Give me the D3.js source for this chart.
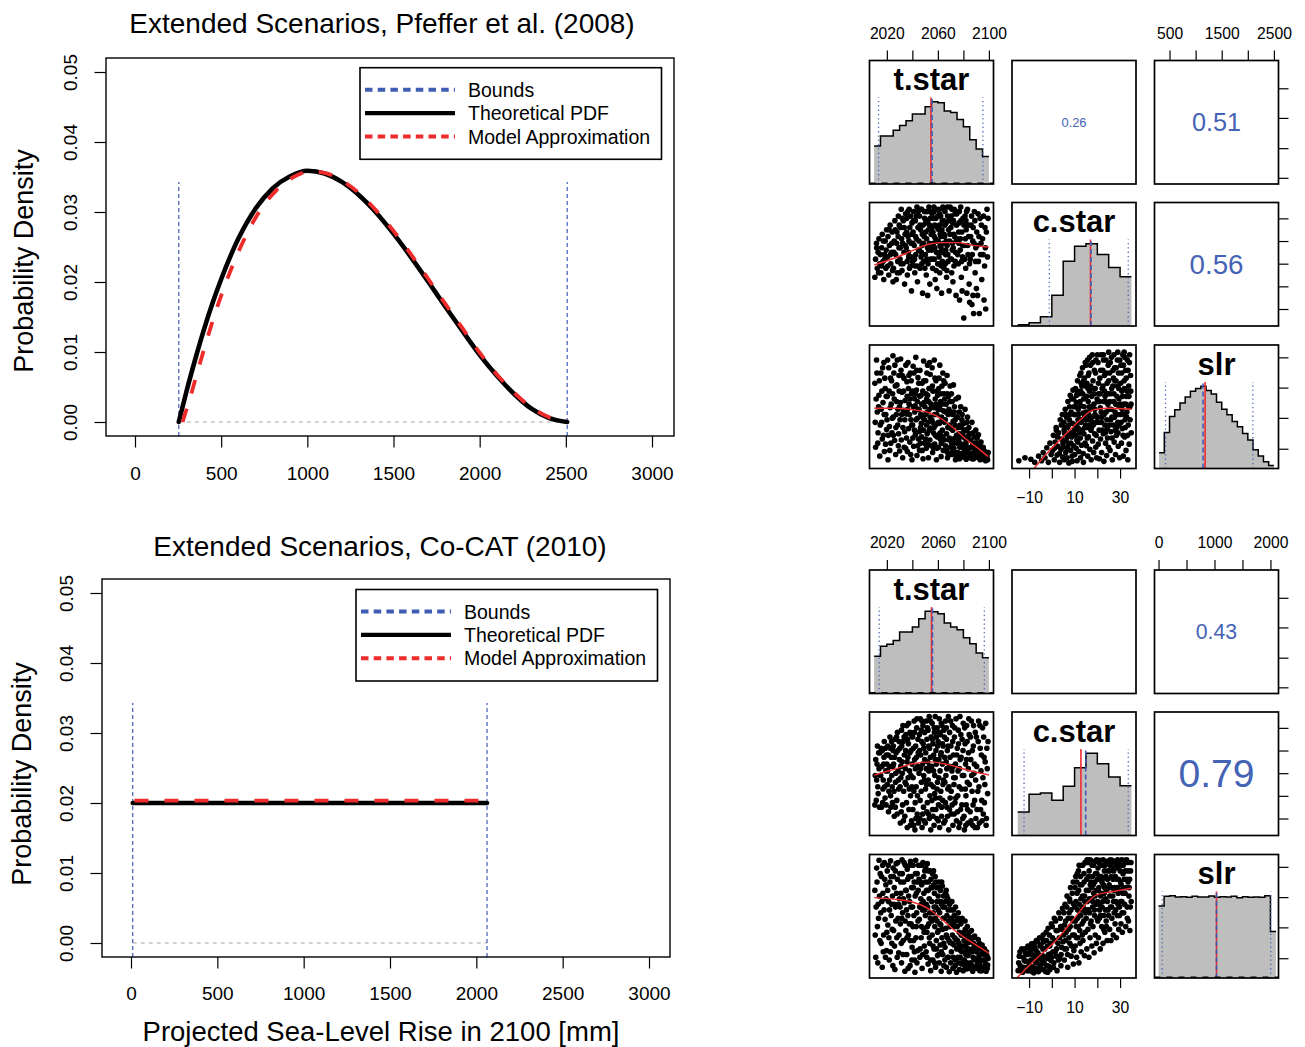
<!DOCTYPE html>
<html>
<head>
<meta charset="utf-8">
<script src="https://cdn.jsdelivr.net/npm/d3@7"></script>
<style>
  body { margin: 0; background: #fff; }
  svg { display: block; }
</style>
</head>
<body>
<svg id="chart" width="1305" height="1047"></svg>
<script>
// ---------- density panels (left column) ----------
const xTicksSLR = [0, 500, 1000, 1500, 2000, 2500, 3000];
const yTicksDensity = [0, 0.01, 0.02, 0.03, 0.04, 0.05];
const legendLabels = ["Bounds", "Theoretical PDF", "Model Approximation"];

// Pfeffer et al. (2008): bounded, skewed distribution of sea-level rise [mm]
const pfefferBounds = [254, 2508];
const pfefferPdf = [[254,0],[300,0.0045],[350,0.0090],[400,0.0132],[450,0.0170],[500,0.0204],[600,0.0262],[700,0.0305],[800,0.0334],[900,0.0351],[1000,0.0359],[1100,0.0355],[1200,0.0343],[1300,0.0324],[1400,0.0299],[1500,0.0269],[1600,0.0236],[1700,0.0201],[1800,0.0165],[1900,0.0130],[2000,0.0096],[2100,0.0066],[2200,0.0040],[2300,0.0019],[2400,0.0006],[2508,0]];
const pfefferApprox = [[276,0],[320,0.0035],[370,0.0078],[420,0.0120],[470,0.0159],[520,0.0194],[620,0.0254],[720,0.0300],[820,0.0331],[920,0.0350],[1020,0.0358],[1100,0.0356],[1200,0.0345],[1300,0.0327],[1400,0.0302],[1500,0.0273],[1600,0.0240],[1700,0.0205],[1800,0.0169],[1900,0.0134],[2000,0.0099],[2100,0.0068],[2200,0.0042],[2300,0.0021],[2400,0.0007],[2500,0.0001]];

// Co-CAT (2010): uniform distribution
const cocatBounds = [10, 2062];
const cocatPdf = [[10,0.0200],[2062,0.0200]];
const cocatApprox = [[20,0.02033],[2055,0.02033]];
const boundLineTop = 0.0343;

// ---------- pairs panels (right column) ----------
const pairVars = ["t.star", "c.star", "slr"];
const tStarTicks = [2020, 2040, 2060, 2080, 2100];
const tStarTickLabels = [2020, 2060, 2100];
const cStarTicks = [-10, 0, 10, 20, 30];
const cStarTickLabels = [-10, 10, 30];
const slrTicksTop = [500, 1000, 1500, 2000, 2500];
const slrTickLabelsTop = [500, 1500, 2500];
const slrTicksBottom = [0, 500, 1000, 1500, 2000];
const slrTickLabelsBottom = [0, 1000, 2000];
const rightTicksOuter = [0.05, 0.29, 0.535, 0.775];
const rightTicksSlr = [0.16, 0.41, 0.655, 0.90];

const tStarDomain = [2006.4, 2103.6];
const cStarDomain = [-17.5, 37];
const slrDomainTop = [212, 2588];
const slrDomainBottom = [-72, 2144];

// histogram bin edges and counts
const tStarEdges = [2010,2015,2020,2025,2030,2035,2040,2045,2050,2055,2060,2065,2070,2075,2080,2085,2090,2095,2100];
const cStarEdges = [-15,-10,-5,0,5,10,15,20,25,30,35];
const slrEdgesTop = [300,400,500,600,700,800,900,1000,1100,1200,1300,1400,1500,1600,1700,1800,1900,2000,2100,2200,2300,2400,2500];
const slrEdgesBottom = [0,100,200,300,400,500,600,700,800,900,1000,1100,1200,1300,1400,1500,1600,1700,1800,1900,2000,2100];

const topTStarCounts = [113,143,143,160,174,188,208,208,230,245,242,217,213,192,170,132,104,82];
const topCStarCounts = [4,10,28,93,195,240,248,215,176,148];
const topSlrCounts = [47,107,155,175,195,213,230,238,245,232,222,197,176,160,140,124,104,85,56,37,20,9];
const bottomTStarCounts = [112,142,148,160,185,185,200,225,248,246,240,212,200,192,168,150,122,108];
const bottomCStarCounts = [71,124,128,106,148,204,248,216,176,150];
const bottomSlrCounts = [217,246,248,244,245,243,246,244,244,247,243,245,244,246,242,245,243,244,243,248,140];

// [lower bound, upper bound, mean, median]
const topTStarLines = [2013.5, 2095.3, 2054.6, 2055.4];
const topCStarLines = [-1.1, 33.6, 17.0, 17.2];
const topSlrLines = [423, 2097, 1182, 1143];
const bottomTStarLines = [2014, 2096.4, 2055, 2055.8];
const bottomCStarLines = [-12.2, 33.6, 12.8, 14.9];
const bottomSlrLines = [65, 2006, 1036, 1036];

// correlations: (t.star,c.star), (t.star,slr), (c.star,slr)
const topCor = [0.26, 0.51, 0.56];
const bottomCor = [null, 0.43, 0.79];

// smoothed trends
const topLoessTC = [[2010.1,9.5],[2025.7,12.4],[2041.3,16.1],[2054.3,18.8],[2064.7,19.3],[2075.1,19.3],[2085.5,18.3],[2100,17.3]];
const topLoessTS = [[2010.1,1372],[2025.7,1372],[2041.3,1339],[2054.3,1275],[2062.1,1179],[2072.5,986],[2082.9,759],[2093.3,566],[2099.5,440]];
const topLoessCS = [[-9,150],[-0.8,566],[6.5,888],[12.4,1146],[18.2,1339],[24.1,1372],[35.1,1353]];
const bottomLoessTC = [[2010.1,9.2],[2025.7,11.7],[2041.3,14.3],[2054.3,15.0],[2067.3,13.9],[2082.9,11.4],[2100,9.2]];
const bottomLoessTS = [[2010.1,1371],[2025.7,1343],[2038.7,1300],[2051.7,1182],[2062.1,1003],[2072.5,793],[2085.5,584],[2100,376]];
const bottomLoessCS = [[-15.4,-71],[-8.1,226],[2.1,614],[9.4,972],[15.3,1271],[19.7,1420],[27.0,1479],[35.1,1540]];

// ensemble samples, Pfeffer: t.star vs c.star
const topTC = [
[2010.6,4],[2011.2,12],[2011.9,19],[2012.5,8],[2013.1,15],[2013.8,21],[2014.4,10],
[2015.3,6],[2015.9,17],[2016.4,23],[2017.0,11],[2017.6,3],[2018.1,14],[2018.7,20],[2019.2,8],[2019.8,25],
[2020.4,13],[2020.9,22],[2021.5,5],[2022.0,18],[2022.6,27],[2023.1,10],[2023.7,15],[2024.2,24],[2024.8,2],
[2025.2,8],[2025.8,20],[2026.3,29],[2026.9,14],[2027.4,3],[2027.9,24],[2028.5,11],[2029.0,31],[2029.5,17],[2029.9,6],
[2030.3,12],[2030.8,26],[2031.3,34],[2031.9,7],[2032.4,19],[2032.9,29],[2033.4,15],[2033.9,1],[2034.3,23],[2034.7,32],[2031.1,10],
[2035.2,17],[2035.7,30],[2036.1,5],[2036.6,22],[2037.1,13],[2037.5,34],[2038.0,26],[2038.4,9],[2038.9,19],[2039.3,-2],[2039.7,28],[2036.9,15],
[2040.2,11],[2040.6,24],[2041.0,33],[2041.5,18],[2041.9,6],[2042.3,29],[2042.7,14],[2043.2,21],[2043.6,35],[2044.0,2],[2044.4,26],[2044.8,16],[2042.1,9],
[2045.2,20],[2045.6,31],[2046.0,8],[2046.4,25],[2046.8,13],[2047.2,34],[2047.6,18],[2048.0,-3],[2048.4,27],[2048.8,11],[2049.2,22],[2049.6,30],[2047.0,15],
[2050.2,14],[2050.5,28],[2050.9,5],[2051.2,21],[2051.6,33],[2051.9,17],[2052.3,10],[2052.6,25],[2053.0,35],[2053.3,19],[2053.7,1],[2054.0,30],[2054.3,12],[2054.7,23],[2052.0,-4],
[2055.2,16],[2055.5,32],[2055.9,8],[2056.2,24],[2056.5,19],[2056.9,35],[2057.2,12],[2057.5,27],[2057.9,3],[2058.2,21],[2058.5,30],[2058.9,15],[2059.2,-1],[2059.5,26],[2059.8,10],[2057.0,33],
[2060.2,20],[2060.5,34],[2060.9,13],[2061.2,27],[2061.5,6],[2061.9,23],[2062.2,31],[2062.5,17],[2062.9,-3],[2063.2,25],[2063.5,11],[2063.9,35],[2064.2,19],[2064.5,29],[2064.8,8],[2062.0,15],
[2065.2,22],[2065.6,33],[2066.0,14],[2066.4,28],[2066.8,4],[2067.2,18],[2067.6,31],[2068.0,11],[2068.4,25],[2068.8,-2],[2069.2,20],[2069.6,35],[2067.0,7],[2066.2,16],
[2070.2,26],[2070.6,12],[2071.0,34],[2071.4,19],[2071.8,2],[2072.2,29],[2072.6,9],[2073.0,22],[2073.4,32],[2073.8,15],[2074.2,-4],[2074.6,27],[2072.0,17],[2070.8,6],
[2075.2,21],[2075.7,33],[2076.1,10],[2076.6,28],[2077.0,-6],[2077.5,16],[2077.9,35],[2078.4,4],[2078.8,24],[2079.3,13],[2079.7,30],[2076.4,19],
[2080.3,-14],[2080.8,18],[2081.3,31],[2081.8,8],[2082.2,25],[2082.7,-3],[2083.2,34],[2083.6,14],[2084.1,22],[2084.5,1],[2082.0,29],
[2085.4,12],[2086.0,27],[2086.7,-8],[2087.3,20],[2088.0,-12],[2088.6,33],[2089.2,6],[2089.7,17],
[2090.5,24],[2091.1,-4],[2091.8,11],[2092.5,-12],[2093.1,30],[2093.8,19],[2094.4,3],
[2095.5,14],[2096.2,-6],[2096.9,26],[2097.5,-10],[2098.5,34],
[2012.0,17],[2013.5,6],[2014.9,14],[2016.0,9],[2017.3,20],[2018.4,12],[2019.5,16],[2020.7,9],[2021.8,25],[2022.9,14],[2023.9,19],[2024.5,7],[2025.5,15],[2026.6,25],[2027.7,19],[2028.2,6],[2028.9,22],[2029.7,27],[2030.5,17],[2031.6,21],[2032.1,30],[2032.7,10],[2033.6,26],[2034.5,18],[2035.5,24],[2035.9,11],[2036.4,33],[2037.3,20],[2037.8,8],[2038.6,31],[2039.1,13],[2039.5,23],[2040.4,19],[2040.9,29],[2041.7,12],[2042.5,22],[2043.0,31],[2043.8,9],[2044.6,33],[2045.4,16],[2045.9,27],[2046.6,34],[2047.4,10],[2047.8,23],[2048.6,19],[2049.4,33],[2049.8,8],[2050.4,24],[2050.7,33],[2051.4,12],[2052.1,29],[2052.8,16],[2053.5,27],[2054.5,33],[2054.9,18],[2055.4,26],[2055.7,12],[2056.4,30],[2057.1,22],[2057.7,17],[2058.4,34],[2058.7,7],[2059.4,20],[2059.9,31],[2060.4,10],[2060.7,25],[2061.4,32],[2061.7,18],[2062.4,22],[2062.7,9],[2063.4,29],[2063.7,15],[2064.4,34],[2064.9,23],[2065.4,27],[2065.9,10],[2066.6,20],[2067.4,35],[2067.8,14],[2068.6,29],[2069.4,23],[2069.9,12],[2070.4,31],[2071.2,16],[2071.6,28],[2072.4,23],[2072.8,34],[2073.6,11],[2074.4,20],[2074.8,32],[2075.5,14],[2076.3,24],[2076.8,33],[2077.7,21],[2078.2,29],[2078.6,11],[2079.5,18],[2080.5,27],[2081.1,12],[2081.6,21],[2082.5,33],[2083.4,18],[2083.9,27],[2084.8,10],[2085.7,22],[2086.4,31],[2087.0,14],[2087.7,26],[2088.3,19],[2089.0,29],[2089.5,11],[2090.8,18],[2091.5,32],[2092.2,22],[2093.4,14],[2094.1,27],[2095.0,21],[2095.8,31],[2096.6,9],[2097.2,17],[2098.0,24],[2098.9,13],[2099.3,30],[2090.2,-1],[2087.5,-4],[2079.0,-2],[2084.9,-7]
];

// Pfeffer: t.star vs slr
const topTS = [
[2010.6,1850],[2011.2,620],[2011.9,2300],[2012.5,1300],[2013.1,900],[2013.8,1620],[2014.4,450],
[2015.3,2050],[2015.9,1100],[2016.4,780],[2017.0,1480],[2017.6,2250],[2018.1,540],[2018.7,1750],[2019.2,1250],[2019.8,960],
[2020.4,1600],[2020.9,380],[2021.5,2150],[2022.0,1020],[2022.6,1380],[2023.1,700],[2023.7,1900],[2024.2,1180],[2024.8,2380],
[2025.2,850],[2025.8,1550],[2026.3,2200],[2026.9,480],[2027.4,1250],[2027.9,1820],[2028.5,1050],[2029.0,650],[2029.5,2000],[2029.9,1400],
[2030.3,1150],[2030.8,2320],[2031.3,760],[2031.9,1680],[2032.4,420],[2032.9,1330],[2033.4,1950],[2033.9,920],[2034.3,1520],[2034.7,600],[2031.1,2100],
[2035.2,1260],[2035.7,1880],[2036.1,540],[2036.6,2250],[2037.1,980],[2037.5,1450],[2038.0,720],[2038.4,2050],[2038.9,1150],[2039.3,1650],[2039.7,380],[2036.9,1750],
[2040.2,1050],[2040.6,2180],[2041.0,640],[2041.5,1560],[2041.9,1300],[2042.3,860],[2042.7,2350],[2043.2,1720],[2043.6,460],[2044.0,1180],[2044.4,1960],[2044.8,780],[2042.1,1420],
[2045.2,1350],[2045.6,560],[2046.0,2100],[2046.4,1000],[2046.8,1620],[2047.2,820],[2047.6,1850],[2048.0,1200],[2048.4,400],[2048.8,2280],[2049.2,1480],[2049.6,700],[2047.0,1080],
[2050.2,1250],[2050.5,1900],[2050.9,600],[2051.2,1550],[2051.6,880],[2051.9,2200],[2052.3,1100],[2052.6,420],[2053.0,1750],[2053.3,1350],[2053.7,760],[2054.0,2020],[2054.3,990],[2054.7,1450],[2052.0,1620],
[2055.2,1150],[2055.5,2150],[2055.9,520],[2056.2,1700],[2056.5,900],[2056.9,1380],[2057.2,2300],[2057.5,680],[2057.9,1550],[2058.2,1050],[2058.5,1900],[2058.9,380],[2059.2,1250],[2059.5,820],[2059.8,1620],[2057.0,1000],
[2060.2,1400],[2060.5,620],[2060.9,1950],[2061.2,1080],[2061.5,2200],[2061.9,780],[2062.2,1500],[2062.5,440],[2062.9,1200],[2063.2,1800],[2063.5,950],[2063.9,2050],[2064.2,560],[2064.5,1320],[2064.8,1650],[2062.0,900],
[2065.2,1100],[2065.6,1850],[2066.0,650],[2066.4,1450],[2066.8,880],[2067.2,2000],[2067.6,420],[2068.0,1250],[2068.4,1600],[2068.8,760],[2069.2,1050],[2069.6,1800],[2067.0,540],[2066.2,1300],
[2070.2,980],[2070.6,1650],[2071.0,480],[2071.4,1250],[2071.8,780],[2072.2,1820],[2072.6,600],[2073.0,1400],[2073.4,1050],[2073.8,380],[2074.2,1550],[2074.6,850],[2072.0,1120],[2070.8,700],
[2075.2,1200],[2075.7,520],[2076.1,1580],[2076.6,880],[2077.0,400],[2077.5,1050],[2077.9,1400],[2078.4,680],[2078.8,1150],[2079.3,450],[2079.7,900],[2076.4,760],
[2080.3,1080],[2080.8,560],[2081.3,1350],[2081.8,780],[2082.2,390],[2082.7,950],[2083.2,1200],[2083.6,620],[2084.1,850],[2084.5,450],[2082.0,700],
[2085.4,880],[2086.0,500],[2086.7,1100],[2087.3,680],[2088.0,400],[2088.6,820],[2089.2,560],[2089.7,950],
[2090.5,700],[2091.1,450],[2091.8,860],[2092.5,560],[2093.1,380],[2093.8,720],[2094.4,480],
[2095.5,620],[2096.2,420],[2096.9,540],[2097.5,360],[2098.5,450],
[2010.9,1100],[2011.6,1550],[2012.2,2050],[2012.9,700],[2013.5,1400],[2014.1,1900],[2014.8,1050],[2015.6,1350],[2016.1,1700],[2016.7,2150],[2017.3,850],[2017.9,1250],[2018.4,1950],[2019.0,680],[2019.5,1600],[2020.1,1150],[2020.6,2300],[2021.2,850],[2021.8,1700],[2022.3,560],[2022.9,1950],[2023.4,1450],[2024.0,900],[2024.5,1650],[2025.0,1200],[2025.5,2050],[2026.1,750],[2026.6,1800],[2027.1,1000],[2027.6,1500],[2028.2,2300],[2028.7,1350],[2029.2,880],[2029.7,1700],[2030.0,550],[2030.6,1480],[2031.6,1250],[2032.1,2000],[2032.6,1000],[2033.1,1700],[2033.6,620],[2034.1,1150],[2034.9,2200],[2035.4,800],[2035.9,1600],[2036.3,1350],[2037.3,2000],[2037.8,1250],[2038.2,1550],[2038.7,480],[2039.1,1900],[2039.5,1050],[2040.0,1700],[2040.4,800],[2040.8,1400],[2041.2,2050],[2041.7,950],[2042.5,1650],[2042.9,1150],[2043.4,2100],[2043.9,1500],[2044.2,650],[2044.6,1350],[2045.0,1850],[2045.4,920],[2045.8,1600],[2046.2,700],[2046.6,1250],[2047.4,1450],[2047.8,560],[2048.2,1700],[2048.6,950],[2049.0,1900],[2049.4,1150],[2049.8,1400],[2050.3,780],[2050.7,1650],[2051.0,1050],[2051.4,2050],[2051.8,1300],[2052.2,680],[2052.8,1500],[2053.2,950],[2053.5,2250],[2053.9,1200],[2054.5,1750],[2054.9,650],[2055.4,1400],[2055.7,1800],[2056.0,1100],[2056.7,600],[2057.4,1250],[2057.7,1950],[2058.0,850],[2058.7,1450],[2059.0,1700],[2059.4,600],[2059.9,1350],[2060.4,1100],[2060.7,1750],[2061.4,880],[2061.7,1350],[2062.4,1650],[2062.7,700],[2063.1,1450],[2063.7,1150],[2064.0,820],[2064.6,1900],[2065.0,760],[2065.4,1550],[2065.8,1150],[2066.6,560],[2067.4,1650],[2067.8,1000],[2068.2,480],[2068.6,1350],[2069.0,800],[2069.4,1500],[2069.8,620],[2070.4,1300],[2070.9,520],[2071.2,1500],[2071.6,950],[2072.4,700],[2072.8,1300],[2073.2,520],[2073.6,1150],[2074.0,800],[2074.4,450],[2074.8,1200],[2075.4,700],[2075.9,1000],[2076.3,420],[2076.8,1300],[2077.2,620],[2077.7,850],[2078.2,500],[2078.6,1000],[2079.0,1250],[2079.5,620],[2080.0,820],[2080.5,430],[2081.0,950],[2081.5,650],[2082.4,520],[2082.9,1100],[2083.4,780],[2083.9,420],[2084.3,1000],[2084.8,600],[2085.2,480],[2085.7,760],[2086.3,620],[2086.9,400],[2087.6,900],[2088.2,520],[2088.8,700],[2089.4,430],[2090.0,620],[2090.8,800],[2091.4,550],[2092.0,420],[2092.8,650],[2093.4,500],[2094.0,600],[2094.8,400],[2095.2,500],[2095.9,560],[2096.6,380],[2097.2,480],[2097.9,420],[2099.0,380],[2099.5,520]
];

// Pfeffer: c.star vs slr
const topCS = [
[-14.5,360],[-11.8,420],
[-9.2,390],[-7.5,330],[-5.8,450],
[-4.5,360],[-3.8,520],[-3.0,420],[-2.2,610],[-1.5,330],[-0.8,700],[-0.3,480],
[0.3,560],[0.7,850],[1.1,380],[1.5,720],[1.9,1000],[2.3,470],[2.7,640],[3.0,900],[3.4,330],[3.7,1150],[4.0,580],[4.3,780],[4.6,1250],[4.8,430],[2.0,950],
[5.1,620],[5.3,1100],[5.5,380],[5.7,880],[5.9,1350],[6.1,520],[6.3,760],[6.5,1200],[6.7,420],[6.9,1000],[7.1,1500],[7.3,680],[7.5,320],[7.7,1150],[7.9,900],[8.1,1620],[8.3,560],[8.5,1300],[8.7,820],[8.9,450],[9.1,1080],[9.3,1720],[9.5,650],[9.7,1400],[9.9,950],[6.0,1000],[7.0,600],[8.0,1250],[9.0,350],[9.6,1550],
[10.1,480],[10.2,1250],[10.4,1750],[10.5,850],[10.7,600],[10.8,1480],[11.0,1050],[11.1,360],[11.3,1900],[11.4,720],[11.6,1350],[11.7,980],[11.9,540],[12.0,1650],[12.2,1150],[12.3,2000],[12.5,800],[12.6,420],[12.8,1420],[12.9,1100],[13.1,660],[13.2,1800],[13.4,950],[13.5,2150],[13.7,1280],[13.8,500],[14.0,1550],[14.1,880],[14.3,1950],[14.4,1200],[14.6,700],[14.7,2250],[14.9,1050],[10.9,1620],[12.7,1700],[13.9,330],[11.5,1150],
[15.1,1300],[15.2,650],[15.4,1850],[15.5,1000],[15.7,2300],[15.8,450],[16.0,1500],[16.1,820],[16.3,2050],[16.4,1150],[16.6,1700],[16.7,580],[16.9,1350],[17.0,2200],[17.2,950],[17.3,380],[17.5,1600],[17.6,1200],[17.8,2400],[17.9,740],[18.1,1900],[18.2,1050],[18.4,520],[18.5,1450],[18.7,2100],[18.8,880],[19.0,1250],[19.1,1750],[19.3,620],[19.4,2300],[19.6,1100],[19.7,420],[19.9,1550],[16.2,1250],[17.4,1000],[18.6,1650],[19.5,850],[15.9,1750],
[20.1,1200],[20.3,2250],[20.4,680],[20.6,1650],[20.8,950],[20.9,400],[21.1,1950],[21.3,1380],[21.4,780],[21.6,2400],[21.8,1100],[21.9,520],[22.1,1750],[22.3,1250],[22.4,2100],[22.6,880],[22.8,1500],[22.9,350],[23.1,2000],[23.3,1050],[23.4,1600],[23.6,700],[23.8,2300],[23.9,1300],[24.1,460],[24.3,1850],[24.4,980],[24.6,1450],[24.8,2200],[24.9,620],[21.0,1500],[22.0,1200],[23.5,900],
[25.2,1350],[25.4,2050],[25.6,560],[25.8,1650],[26.0,920],[26.2,2350],[26.4,1200],[26.6,380],[26.8,1800],[27.0,1050],[27.2,1500],[27.4,720],[27.6,2150],[27.8,1300],[28.0,480],[28.2,1900],[28.4,850],[28.6,1600],[28.8,2300],[29.0,1100],[29.2,640],[29.4,1750],[29.6,1400],[29.8,420],[25.9,1150],[27.1,1950],[28.5,1000],
[30.2,1250],[30.4,2200],[30.6,700],[30.8,1700],[31.0,980],[31.2,2400],[31.4,450],[31.6,1450],[31.8,1900],[32.0,820],[32.2,1150],[32.4,2100],[32.6,560],[32.8,1600],[33.0,1300],[33.2,2300],[33.4,380],[33.6,1050],[33.8,1800],[34.0,680],[34.3,1400],[34.6,2000],[34.9,900],
[1.2,600],[2.5,820],[3.3,500],[4.2,1050],[4.9,700],[5.4,950],[6.2,1250],[6.8,830],[7.4,1050],[7.8,1400],[8.4,700],[8.8,1550],[9.2,900],[9.8,1250],[10.3,1050],[10.6,1400],[11.0,760],[11.2,1700],[11.8,1250],[12.1,900],[12.4,1500],[12.9,1850],[13.3,1150],[13.6,1650],[14.2,1400],[14.5,1000],[14.8,1800],[15.0,1150],[15.3,1600],[15.6,800],[16.0,2000],[16.5,1400],[16.8,1050],[17.1,1800],[17.7,1400],[18.0,1100],[18.3,1750],[18.9,1350],[19.2,2050],[19.8,1200],[20.2,1500],[20.5,1850],[20.7,1100],[21.2,1650],[21.5,2100],[21.7,1300],[22.2,950],[22.5,1800],[22.7,2300],[23.0,1250],[23.2,1700],[23.7,1500],[24.0,2050],[24.2,1150],[24.5,800],[24.7,1650],[25.0,1900],[25.3,1050],[25.5,1500],[25.7,2250],[26.1,1350],[26.3,1750],[26.5,800],[26.9,2100],[27.3,1650],[27.5,1200],[27.7,1900],[27.9,950],[28.1,1450],[28.3,2150],[28.7,1250],[28.9,1800],[29.1,900],[29.3,2050],[29.5,1550],[29.7,1050],[29.9,2300],[30.1,1450],[30.3,1850],[30.5,1100],[30.7,2050],[30.9,1350],[31.1,1600],[31.3,850],[31.5,2200],[31.7,1250],[31.9,1750],[32.1,2350],[32.3,1000],[32.5,1450],[32.7,1950],[32.9,1200],[33.1,1700],[33.3,850],[33.5,2100],[33.7,1400],[33.9,1600],[34.1,2250],[34.4,1150],[34.7,1700],[34.8,1450],[15.0,2200],[16.6,2350],[18.0,2250],[20.0,2400],[22.7,2400],[25.0,2450],[27.3,2400],[29.0,2450],[31.8,2450],[34.2,2400],[14.0,1900],[12.8,2050]
];

// ensemble samples, Co-CAT: t.star vs c.star
const bottomTC = [
[2010.6,-4],[2011.3,16],[2012.0,7],[2012.6,22],[2013.2,1],[2013.9,12],[2014.5,19],
[2015.2,9],[2015.8,-5],[2016.4,20],[2016.9,3],[2017.5,14],[2018.0,24],[2018.6,-1],[2019.2,11],[2019.7,18],
[2020.3,5],[2020.8,22],[2021.3,-7],[2021.9,13],[2022.4,26],[2022.9,0],[2023.4,17],[2023.9,9],[2024.4,-3],[2024.9,20],
[2025.3,14],[2025.8,-9],[2026.3,25],[2026.8,6],[2027.3,19],[2027.8,-2],[2028.3,28],[2028.8,11],[2029.3,3],[2029.8,16],
[2030.2,21],[2030.6,-12],[2031.0,8],[2031.5,29],[2031.9,15],[2032.3,-4],[2032.8,24],[2033.2,2],[2033.7,18],[2034.1,-9],[2034.5,12],[2034.9,27],
[2035.2,5],[2035.6,31],[2036.0,-14],[2036.5,17],[2036.9,23],[2037.3,-6],[2037.8,11],[2038.2,28],[2038.6,0],[2039.0,20],[2039.4,-11],[2039.8,14],
[2040.2,26],[2040.6,8],[2041.0,-13],[2041.4,33],[2041.8,16],[2042.2,-3],[2042.6,22],[2043.0,4],[2043.4,30],[2043.8,-8],[2044.2,13],[2044.6,19],[2042.0,-15],
[2045.2,10],[2045.5,27],[2045.9,-10],[2046.2,34],[2046.6,18],[2046.9,2],[2047.3,24],[2047.6,-14],[2048.0,14],[2048.3,31],[2048.7,-5],[2049.0,21],[2049.4,7],[2049.7,16],[2047.0,29],
[2050.2,-12],[2050.5,19],[2050.8,33],[2051.1,5],[2051.4,25],[2051.7,-3],[2052.0,15],[2052.3,29],[2052.6,-8],[2052.9,11],[2053.2,35],[2053.5,21],[2053.8,0],[2054.1,17],[2054.4,-15],[2054.7,26],
[2055.2,13],[2055.5,32],[2055.8,-6],[2056.1,23],[2056.4,4],[2056.7,18],[2057.0,-13],[2057.3,28],[2057.6,9],[2057.9,35],[2058.2,-1],[2058.5,20],[2058.8,14],[2059.1,-10],[2059.4,30],[2059.7,6],
[2060.2,24],[2060.5,-4],[2060.8,16],[2061.1,34],[2061.4,-14],[2061.7,11],[2062.0,27],[2062.3,2],[2062.6,19],[2062.9,-9],[2063.2,31],[2063.5,14],[2063.8,-2],[2064.1,22],[2064.4,7],[2064.7,29],
[2065.2,17],[2065.6,-11],[2066.0,33],[2066.3,9],[2066.7,25],[2067.1,-5],[2067.4,20],[2067.8,3],[2068.2,35],[2068.5,-15],[2068.9,13],[2069.2,28],[2069.6,-1],[2066.5,15],
[2070.2,22],[2070.6,-8],[2071.0,11],[2071.4,31],[2071.8,-13],[2072.2,18],[2072.6,5],[2073.0,26],[2073.4,-3],[2073.8,14],[2074.2,34],[2074.6,-11],[2072.4,8],
[2075.2,21],[2075.6,0],[2076.0,29],[2076.5,-14],[2076.9,12],[2077.3,35],[2077.8,-6],[2078.2,17],[2078.6,3],[2079.0,25],[2079.5,-10],[2079.9,32],
[2080.3,9],[2080.8,-15],[2081.3,23],[2081.7,14],[2082.2,-4],[2082.6,31],[2083.1,6],[2083.6,-12],[2084.0,19],[2084.5,27],[2082.0,0],
[2085.3,-7],[2085.8,16],[2086.3,33],[2086.8,2],[2087.3,-13],[2087.8,22],[2088.3,10],[2088.8,-2],[2089.3,28],[2089.8,-10],
[2090.4,13],[2091.0,-14],[2091.6,24],[2092.2,4],[2092.9,31],[2093.5,-6],[2094.1,18],[2094.7,-11],
[2095.3,8],[2095.9,26],[2096.5,-3],[2097.1,15],[2097.8,-13],[2098.4,21],[2099.0,1],
[2010.9,9],[2011.7,-2],[2012.3,14],[2012.9,4],[2013.6,19],[2014.2,-5],[2014.8,9],[2015.5,21],[2016.1,13],[2016.7,-3],[2017.2,7],[2017.8,17],[2018.3,4],[2018.9,21],[2019.4,-4],[2020.0,14],[2020.6,11],[2021.1,18],[2021.6,2],[2022.1,7],[2022.7,21],[2023.2,-5],[2023.7,24],[2024.2,4],[2024.7,13],[2025.1,22],[2025.6,2],[2026.0,17],[2026.6,-5],[2027.0,10],[2027.6,26],[2028.1,-8],[2028.6,20],[2029.1,7],[2029.6,24],[2030.4,4],[2030.9,13],[2031.3,-7],[2031.7,22],[2032.1,10],[2032.6,31],[2033.0,-11],[2033.5,26],[2034.3,6],[2034.7,20],[2035.4,-3],[2035.8,15],[2036.3,25],[2036.7,8],[2037.1,32],[2037.6,3],[2038.0,19],[2038.4,-13],[2038.9,9],[2039.2,27],[2039.6,4],[2040.4,-6],[2040.8,21],[2041.2,2],[2041.6,28],[2042.4,12],[2042.8,-10],[2043.2,17],[2043.6,34],[2044.0,0],[2044.4,25],[2044.8,-12],[2045.7,20],[2046.1,-2],[2046.4,12],[2047.1,6],[2047.5,33],[2048.1,-8],[2048.5,23],[2048.9,9],[2049.2,-11],[2049.6,28],[2050.3,3],[2050.9,12],[2051.3,-7],[2051.8,30],[2052.4,7],[2052.8,22],[2053.3,-10],[2053.6,13],[2054.2,33],[2054.6,5],[2055.3,-2],[2055.7,25],[2056.2,-9],[2056.6,11],[2057.1,30],[2057.5,1],[2058.0,16],[2058.4,-6],[2058.9,26],[2059.3,3],[2059.8,22],[2060.3,-11],[2060.7,8],[2061.2,28],[2061.6,-1],[2062.2,18],[2062.7,32],[2063.0,-5],[2063.6,23],[2064.0,5],[2064.6,-12],[2065.0,26],[2065.5,6],[2065.9,-3],[2066.6,30],[2067.0,12],[2067.6,-9],[2068.0,22],[2068.7,4],[2069.1,-6],[2069.5,17],[2070.0,33],[2070.4,2],[2071.2,-4],[2071.6,24],[2072.0,13],[2072.8,-8],[2073.2,30],[2073.6,8],[2074.0,-1],[2074.8,18],[2075.4,-7],[2075.8,11],[2076.2,23],[2076.7,4],[2077.1,-12],[2077.5,16],[2078.0,27],[2078.8,-4],[2079.2,9],[2079.7,20],[2080.5,-9],[2081.0,30],[2081.5,3],[2081.9,-13],[2082.4,16],[2082.9,24],[2083.3,-6],[2083.8,12],[2084.2,34],[2084.7,5],[2085.5,26],[2086.0,-11],[2086.5,9],[2087.0,20],[2087.6,-4],[2088.0,31],[2088.6,14],[2089.1,-14],[2089.6,7],[2090.2,26],[2090.7,-6],[2091.3,2],[2091.9,33],[2092.5,-12],[2093.2,21],[2093.8,11],[2094.4,-2],[2095.0,30],[2095.6,-8],[2096.2,17],[2096.8,5],[2097.5,32],[2098.1,-10],[2098.7,12],[2099.3,24]
];

// Co-CAT: t.star vs slr
const bottomTS = [
[2010.6,1500],[2011.3,300],[2012.0,1900],[2012.6,850],[2013.2,1250],[2013.9,2040],[2014.5,600],
[2015.2,1100],[2015.8,1750],[2016.4,120],[2016.9,1450],[2017.5,700],[2018.0,2000],[2018.6,980],[2019.2,1600],[2019.7,420],
[2020.3,1850],[2020.8,880],[2021.3,1300],[2021.9,250],[2022.4,1650],[2022.9,2030],[2023.4,1050],[2023.9,550],[2024.4,1400],[2024.9,1900],
[2025.3,780],[2025.8,1550],[2026.3,80],[2026.8,1200],[2027.3,1980],[2027.8,650],[2028.3,1700],[2028.8,1000],[2029.3,380],[2029.8,1350],
[2030.2,1800],[2030.6,900],[2031.0,1450],[2031.5,200],[2031.9,2050],[2032.3,1100],[2032.8,600],[2033.2,1650],[2033.7,1280],[2034.1,50],[2034.5,1950],[2034.9,780],
[2035.2,1500],[2035.6,350],[2036.0,1880],[2036.5,1050],[2036.9,700],[2037.3,1750],[2037.8,1300],[2038.2,150],[2038.6,2020],[2039.0,900],[2039.4,1550],[2039.8,480],
[2040.2,1200],[2040.6,1950],[2041.0,600],[2041.4,1650],[2041.8,250],[2042.2,1400],[2042.6,2040],[2043.0,850],[2043.4,1100],[2043.8,1800],[2044.2,420],[2044.6,1500],[2042.0,30],
[2045.2,1700],[2045.5,980],[2045.9,300],[2046.2,1950],[2046.6,1350],[2046.9,650],[2047.3,1600],[2047.6,100],[2048.0,1150],[2048.3,2000],[2048.7,820],[2049.0,1450],[2049.4,500],[2049.7,1850],[2047.0,1250],
[2050.2,1050],[2050.5,1900],[2050.8,400],[2051.1,1500],[2051.4,750],[2051.7,1980],[2052.0,1200],[2052.3,180],[2052.6,1650],[2052.9,900],[2053.2,1350],[2053.5,550],[2053.8,1850],[2054.1,1000],[2054.4,60],[2054.7,1550],
[2055.2,1300],[2055.5,700],[2055.8,1800],[2056.1,250],[2056.4,1100],[2056.7,1600],[2057.0,450],[2057.3,1450],[2057.6,850],[2057.9,1750],[2058.2,120],[2058.5,1200],[2058.8,600],[2059.1,1550],[2059.4,950],[2059.7,330],
[2060.2,1400],[2060.5,780],[2060.8,1650],[2061.1,200],[2061.4,1100],[2061.7,520],[2062.0,1500],[2062.3,880],[2062.6,50],[2062.9,1250],[2063.2,650],[2063.5,1580],[2063.8,350],[2064.1,1000],[2064.4,1400],[2064.7,150],
[2065.2,1200],[2065.6,480],[2066.0,1450],[2066.3,820],[2066.7,120],[2067.1,1050],[2067.4,650],[2067.8,1350],[2068.2,300],[2068.5,950],[2068.9,40],[2069.2,1250],[2069.6,560],[2066.5,1500],
[2070.2,1000],[2070.6,400],[2071.0,1300],[2071.4,700],[2071.8,100],[2072.2,1150],[2072.6,520],[2073.0,850],[2073.4,250],[2073.8,1200],[2074.2,620],[2074.6,30],[2072.4,950],
[2075.2,850],[2075.6,300],[2076.0,1100],[2076.5,550],[2076.9,80],[2077.3,950],[2077.8,420],[2078.2,700],[2078.6,180],[2079.0,1000],[2079.5,500],[2079.9,60],
[2080.3,750],[2080.8,250],[2081.3,950],[2081.7,480],[2082.2,90],[2082.6,650],[2083.1,850],[2083.6,330],[2084.0,560],[2084.5,150],[2082.0,400],
[2085.3,600],[2085.8,200],[2086.3,780],[2086.8,400],[2087.3,50],[2087.8,550],[2088.3,280],[2088.8,680],[2089.3,130],[2089.8,450],
[2090.4,500],[2091.0,180],[2091.6,620],[2092.2,320],[2092.9,60],[2093.5,450],[2094.1,240],[2094.7,520],
[2095.3,380],[2095.9,120],[2096.5,450],[2097.1,250],[2097.8,50],[2098.4,330],[2099.0,160],
[2010.9,700],[2011.6,1200],[2012.3,1650],[2012.9,200],[2013.5,1000],[2014.2,1400],[2014.8,1800],[2015.5,550],[2016.1,1300],[2016.7,1950],[2017.2,400],[2017.8,1150],[2018.3,1700],[2018.9,300],[2019.4,1350],[2020.0,750],[2020.6,1500],[2021.1,1950],[2021.6,650],[2022.1,1150],[2022.7,400],[2023.2,1750],[2023.7,1250],[2024.2,800],[2024.7,150],[2025.1,1750],[2025.6,1250],[2026.0,500],[2026.6,1850],[2027.0,950],[2027.6,1450],[2028.1,300],[2028.6,2000],[2029.1,1250],[2029.6,700],[2030.4,1200],[2030.9,1650],[2031.3,550],[2031.7,1000],[2032.1,1800],[2032.6,350],[2033.0,1350],[2033.5,2000],[2034.3,950],[2034.7,1500],[2035.4,1150],[2035.8,650],[2036.3,1700],[2036.7,100],[2037.1,1400],[2037.6,900],[2038.0,1950],[2038.4,600],[2038.9,1200],[2039.2,1750],[2039.6,250],[2040.4,850],[2040.8,1550],[2041.2,1050],[2041.6,400],[2042.4,1800],[2042.8,650],[2043.2,1450],[2043.6,200],[2044.0,1650],[2044.4,950],[2044.8,1950],[2045.7,1200],[2046.1,450],[2046.4,1650],[2047.1,850],[2047.5,1950],[2048.1,350],[2048.5,1300],[2048.9,1750],[2049.2,750],[2049.6,1150],[2050.3,1650],[2050.9,1250],[2051.3,300],[2051.8,850],[2052.4,1500],[2052.8,1850],[2053.3,650],[2053.6,1100],[2054.2,250],[2054.6,1700],[2055.3,950],[2055.7,1550],[2056.2,500],[2056.6,1850],[2057.1,1200],[2057.5,200],[2058.0,1000],[2058.4,1650],[2058.9,450],[2059.3,1300],[2059.8,750],[2060.3,1150],[2060.7,350],[2061.2,1550],[2061.6,900],[2062.2,1300],[2062.7,400],[2063.0,1650],[2063.6,800],[2064.0,1200],[2064.6,550],[2065.0,1000],[2065.5,250],[2065.9,1300],[2066.6,700],[2067.0,1400],[2067.6,300],[2068.0,1150],[2068.7,600],[2069.1,1300],[2069.5,850],[2070.0,200],[2070.4,1150],[2071.2,550],[2071.6,900],[2072.0,300],[2072.8,1050],[2073.2,650],[2073.6,150],[2074.0,950],[2074.8,450],[2075.4,600],[2075.8,1000],[2076.2,200],[2076.7,750],[2077.1,500],[2077.5,300],[2078.0,900],[2078.8,400],[2079.2,700],[2079.7,250],[2080.5,600],[2081.0,150],[2081.5,800],[2081.9,350],[2082.4,550],[2082.9,200],[2083.3,700],[2083.8,450],[2084.2,100],[2084.7,750],[2085.5,400],[2086.0,650],[2086.5,150],[2087.0,450],[2087.6,300],[2088.0,650],[2088.6,100],[2089.1,500],[2089.6,250],[2090.2,400],[2090.7,100],[2091.3,450],[2091.9,250],[2092.5,550],[2093.2,150],[2093.8,350],[2094.4,60],[2095.0,450],[2095.6,250],[2096.2,80],[2096.8,350],[2097.5,180],[2098.1,400],[2098.7,100],[2099.3,280]
];

// Co-CAT: c.star vs slr
const bottomCS = [
[-14.8,60],[-14.3,320],[-13.9,150],[-13.2,450],[-12.8,30],[-12.1,240],[-11.6,380],[-11.1,110],[-10.5,500],[-10.2,200],
[-9.8,60],[-9.5,420],[-9.2,250],[-8.9,540],[-8.5,130],[-8.2,340],[-7.9,20],[-7.5,480],[-7.1,210],[-6.8,600],[-6.4,90],[-6.1,380],[-5.8,270],[-5.4,650],[-5.1,160],[-7.0,300],[-8.7,450],
[-4.8,520],[-4.5,80],[-4.1,330],[-3.8,700],[-3.4,200],[-3.1,450],[-2.7,40],[-2.3,600],[-2.0,280],[-1.6,820],[-1.3,140],[-0.9,500],[-0.6,360],[-0.2,900],[-3.6,580],[-1.8,30],[-0.4,240],
[0.3,650],[0.7,120],[1.1,1000],[1.5,400],[1.9,780],[2.3,60],[2.7,550],[3.1,1100],[3.5,280],[3.9,850],[4.3,480],[4.7,1180],[2.0,320],[4.0,150],
[5.2,700],[5.5,250],[5.8,1250],[6.1,950],[6.4,450],[6.7,1400],[7.0,120],[7.3,800],[7.6,1100],[7.9,550],[8.2,1550],[8.5,320],[8.8,1000],[9.1,700],[9.4,1650],[9.7,420],[6.0,600],[8.0,1300],[9.5,180],[5.6,880],
[10.1,1200],[10.3,500],[10.5,1750],[10.7,850],[10.9,300],[11.1,1450],[11.3,1000],[11.5,650],[11.7,1850],[11.9,200],[12.1,1250],[12.3,780],[12.5,1600],[12.7,1050],[12.9,400],[13.1,1950],[13.3,900],[13.5,1400],[13.7,600],[13.9,1150],[14.1,1800],[14.3,330],[14.5,1300],[14.7,750],[14.9,2000],[11.0,1650],[13.0,1150],
[15.1,1000],[15.3,1700],[15.4,450],[15.6,1300],[15.8,2000],[15.9,800],[16.1,1500],[16.3,300],[16.4,1850],[16.6,1100],[16.8,650],[16.9,1600],[17.1,2040],[17.3,950],[17.4,1350],[17.6,500],[17.8,1750],[17.9,1200],[18.1,850],[18.3,1950],[18.4,1450],[18.6,380],[18.8,1050],[18.9,1650],[19.1,700],[19.3,2030],[19.4,1250],[19.6,550],[19.8,1800],[19.9,1000],[16.0,1150],[17.5,1550],[19.0,1400],
[20.1,1300],[20.3,1900],[20.5,650],[20.7,1550],[20.9,1000],[21.1,2040],[21.3,450],[21.5,1400],[21.7,1750],[21.9,850],[22.1,1200],[22.3,1950],[22.5,550],[22.7,1600],[22.9,1050],[23.1,1850],[23.3,750],[23.5,1350],[23.7,2000],[23.9,950],[24.1,1500],[24.3,600],[24.5,1700],[24.7,1150],[24.9,2030],[21.0,1150],[22.0,1650],[23.0,1450],[24.0,850],
[25.2,1600],[25.4,800],[25.6,1950],[25.8,1200],[26.0,600],[26.2,1750],[26.4,1000],[26.6,2040],[26.8,1400],[27.0,700],[27.2,1850],[27.4,1100],[27.6,1550],[27.8,900],[28.0,2000],[28.2,1300],[28.4,650],[28.6,1700],[28.8,1050],[29.0,1900],[29.2,1450],[29.4,800],[29.6,2030],[29.8,1200],
[30.2,1650],[30.4,900],[30.6,1950],[30.8,1300],[31.0,750],[31.3,1800],[31.6,1100],[31.9,2040],[32.2,1450],[32.5,850],[32.8,1700],[33.1,1200],[33.4,2000],[33.7,950],[34.0,1550],[34.3,780],[34.6,1850],[34.9,1300],[31.5,1550],[33.5,1650],
[-14.6,200],[-14.0,400],[-13.5,80],[-12.5,300],[-12.3,120],[-11.8,450],[-11.4,230],[-10.8,60],[-10.7,350],[-10.0,480],[-9.6,150],[-9.0,350],[-8.6,40],[-8.0,250],[-7.7,550],[-7.3,100],[-6.9,420],[-6.6,200],[-6.2,580],[-5.9,40],[-5.6,330],[-5.2,500],[-4.9,150],[-4.6,650],[-4.3,250],[-3.9,450],[-3.5,80],[-3.2,600],[-2.9,300],[-2.5,750],[-2.2,150],[-1.9,500],[-1.5,350],[-1.1,700],[-0.8,80],[-0.5,550],[-0.1,300],[0.2,850],[0.5,400],[0.9,200],[1.3,600],[1.7,950],[2.1,450],[2.5,780],[2.9,250],[3.3,650],[3.7,1000],[4.1,350],[4.5,800],[4.9,580],[5.3,1100],[5.7,450],[6.3,750],[6.6,1200],[6.9,350],[7.2,1000],[7.5,650],[7.8,1350],[8.1,850],[8.4,1150],[8.7,500],[9.0,1450],[9.3,950],[9.6,1250],[9.9,700],[10.2,1550],[10.4,950],[10.6,1300],[10.8,650],[11.2,1800],[11.4,1150],[11.6,850],[11.8,1500],[12.0,1950],[12.2,1050],[12.4,550],[12.6,1750],[12.8,1350],[13.2,1600],[13.4,700],[13.6,1950],[13.8,1200],[14.0,950],[14.2,1650],[14.4,1400],[14.6,2000],[14.8,1100],[15.2,1500],[15.5,2050],[15.7,1150],[16.2,1750],[16.5,1350],[16.7,2050],[17.0,900],[17.2,1650],[17.7,1950],[18.0,1300],[18.2,1600],[18.5,2000],[18.7,1150],[19.2,1800],[19.5,1500],[19.7,2050],[20.0,1700],[20.2,950],[20.4,1500],[20.6,2000],[20.8,1250],[21.2,1750],[21.4,1050],[21.6,1950],[21.8,1450],[22.2,1700],[22.4,1300],[22.6,2050],[22.8,800],[23.2,1550],[23.4,1950],[23.6,1150],[23.8,1750],[24.2,2000],[24.4,1300],[24.6,1850],[24.8,1550],[25.0,1050],[25.3,1850],[25.5,1400],[25.7,2050],[26.1,1550],[26.3,1200],[26.5,1900],[26.9,1700],[27.1,1300],[27.3,2000],[27.5,1500],[27.9,1750],[28.1,1150],[28.3,1950],[28.7,1550],[28.9,2050],[29.1,1250],[29.3,1700],[29.5,1950],[29.7,1050],[29.9,1500],[30.1,1850],[30.3,1300],[30.5,1600],[30.7,2050],[30.9,1100],[31.2,1450],[31.4,1950],[31.8,1700],[32.0,1250],[32.3,1850],[32.6,1550],[32.9,2050],[33.2,1000],[33.6,1850],[33.9,1400],[34.2,1700],[34.5,1200],[34.8,2000]
];

// ---------- drawing ----------
const FONT = '"Liberation Sans", Arial, Helvetica, sans-serif';
const BLUE = "#3f5db3";
const BLUE_THIN = "#4f68bd";
const RED = "#ee2c2c";
const svg = d3.select("#chart");
const defs = svg.append("defs");

function styleAxis(g, fs) {
  g.attr("font-family", FONT).attr("font-size", fs);
  g.select(".domain").remove();
  g.selectAll(".tick line").attr("stroke", "#000").attr("stroke-width", 1.2);
  g.selectAll(".tick text").attr("fill", "#000");
}

function drawDensityPanel(p) {
  const x = d3.scaleLinear().domain([0, 3000]).range(p.xRange);
  const y = d3.scaleLinear().domain([0, 0.05]).range(p.yRange);
  const [bx0, by0, bx1, by1] = p.box;
  const g = svg.append("g");

  g.append("text").attr("x", p.titleX).attr("y", p.titleY)
    .attr("text-anchor", "middle").attr("font-family", FONT).attr("font-size", 28)
    .text(p.title);

  const xa = g.append("g").attr("transform", `translate(0,${by1})`)
    .call(d3.axisBottom(x).tickValues(xTicksSLR).tickSize(11.5).tickFormat(d3.format("d")));
  styleAxis(xa, 19);
  xa.selectAll(".tick text").attr("y", p.xLabelY - by1).attr("dy", null);

  const ya = g.append("g").attr("transform", `translate(${bx0},0)`)
    .call(d3.axisLeft(y).tickValues(yTicksDensity).tickSize(11.5).tickFormat(d3.format(".2f")));
  styleAxis(ya, 19);
  ya.selectAll(".tick text").attr("x", 0).attr("dy", null).attr("text-anchor", "middle")
    .attr("transform", `translate(${p.yTickX - bx0},0) rotate(-90)`);

  g.append("text").attr("transform", `translate(${p.yLabelX},${p.yLabelY}) rotate(-90)`)
    .attr("text-anchor", "middle").attr("font-family", FONT).attr("font-size", 27)
    .text("Probability Density");
  if (p.xLabel) {
    g.append("text").attr("x", p.xLabelX).attr("y", p.xTitleY)
      .attr("text-anchor", "middle").attr("font-family", FONT).attr("font-size", 27.5)
      .text(p.xLabel);
  }

  // zero baseline between bounds
  g.append("line").attr("x1", x(p.bounds[0])).attr("x2", x(p.bounds[1]))
    .attr("y1", y(0)).attr("y2", y(0))
    .attr("stroke", "#c4c4c4").attr("stroke-width", 1.4).attr("stroke-dasharray", "4,4");

  // bounds
  g.selectAll(".bound").data(p.bounds).join("line")
    .attr("x1", d => x(d)).attr("x2", d => x(d))
    .attr("y1", by1).attr("y2", y(boundLineTop))
    .attr("stroke", BLUE_THIN).attr("stroke-width", 1.3).attr("stroke-dasharray", "4,3");

  const line = d3.line().x(d => x(d[0])).y(d => y(d[1])).curve(d3.curveMonotoneX);
  g.append("path").attr("d", line(p.pdf)).attr("fill", "none")
    .attr("stroke", "#000").attr("stroke-width", 4.6).attr("stroke-linecap", "round");
  g.append("path").attr("d", line(p.approx)).attr("fill", "none")
    .attr("stroke", RED).attr("stroke-width", 3.8).attr("stroke-dasharray", "14,16");

  g.append("rect").attr("x", bx0).attr("y", by0).attr("width", bx1 - bx0).attr("height", by1 - by0)
    .attr("fill", "none").attr("stroke", "#000").attr("stroke-width", 1.4);

  // legend
  const [lx0, ly0, lx1, ly1] = p.legend;
  const lg = g.append("g");
  lg.append("rect").attr("x", lx0).attr("y", ly0).attr("width", lx1 - lx0).attr("height", ly1 - ly0)
    .attr("fill", "#fff").attr("stroke", "#000").attr("stroke-width", 1.6);
  const styles = [
    {stroke: BLUE, w: 4, dash: "7.5,5.2"},
    {stroke: "#000", w: 4.4, dash: null},
    {stroke: RED, w: 4, dash: "7.5,5.2"}
  ];
  legendLabels.forEach((lab, k) => {
    const yy = ly0 + 22 + k * 23.4;
    lg.append("line").attr("x1", lx0 + 5).attr("x2", lx0 + 95).attr("y1", yy).attr("y2", yy)
      .attr("stroke", styles[k].stroke).attr("stroke-width", styles[k].w)
      .attr("stroke-dasharray", styles[k].dash);
    lg.append("text").attr("x", lx0 + 108).attr("y", yy + 7).attr("font-family", FONT)
      .attr("font-size", 19.5).text(lab);
  });
}

drawDensityPanel({
  title: "Extended Scenarios, Pfeffer et al. (2008)", titleX: 382, titleY: 33,
  xRange: [135, 652], yRange: [422, 72], box: [106, 58, 674, 436],
  xLabelY: 480, yTickX: 77, yLabelX: 32.5, yLabelY: 261,
  bounds: pfefferBounds, pdf: pfefferPdf, approx: pfefferApprox,
  legend: [360, 67.7, 661.5, 159.3]
});
drawDensityPanel({
  title: "Extended Scenarios, Co-CAT (2010)", titleX: 380, titleY: 556,
  xRange: [131, 649], yRange: [943, 593], box: [102, 579, 670, 957],
  xLabelY: 1000, yTickX: 73, yLabelX: 30.5, yLabelY: 774,
  xLabel: "Projected Sea-Level Rise in 2100 [mm]", xLabelX: 381, xTitleY: 1041,
  bounds: cocatBounds, pdf: cocatPdf, approx: cocatApprox,
  legend: [356, 589.5, 657.5, 681]
});

// ---------- scatterplot matrices ----------
function drawPairs(p) {
  const colX = [869.5, 1012, 1154.5], W = 124, H = 123.5;
  const rowY = p.rowTops;
  const sx = p.domains.map((d, j) => d3.scaleLinear().domain(d).range([colX[j], colX[j] + W]));
  const sy = p.domains.map((d, i) => d3.scaleLinear().domain(d).range([rowY[i] + H, rowY[i]]));
  const g = svg.append("g");

  for (let i = 0; i < 3; i++) {
    for (let j = 0; j < 3; j++) {
      const id = `clip-${p.id}-${i}-${j}`;
      defs.append("clipPath").attr("id", id).append("rect")
        .attr("x", colX[j]).attr("y", rowY[i]).attr("width", W).attr("height", H);
      const pg = g.append("g");
      const inner = pg.append("g").attr("clip-path", `url(#${id})`);

      if (i === j) {
        const h = p.hist[i];
        const maxC = d3.max(h.counts);
        const hy = d3.scaleLinear().domain([0, 1.5 * maxC]).range([rowY[i] + H, rowY[i]]);
        const steps = h.counts.map((c, k) => [h.edges[k], c]);
        steps.push([h.edges[h.edges.length - 1], h.counts[h.counts.length - 1]]);
        inner.append("path")
          .attr("d", d3.area().x(d => sx[j](d[0])).y0(hy(0)).y1(d => hy(d[1])).curve(d3.curveStepAfter)(steps))
          .attr("fill", "#bebebe");
        inner.append("path")
          .attr("d", d3.line().x(d => sx[j](d[0])).y(d => hy(d[1])).curve(d3.curveStepAfter)(steps))
          .attr("fill", "none").attr("stroke", "#000").attr("stroke-width", 1.5);
        const top = hy(1.05 * maxC);
        const [lo, hi, mean, med] = h.lines;
        inner.selectAll(".q").data([lo, hi]).join("line")
          .attr("x1", d => sx[j](d)).attr("x2", d => sx[j](d)).attr("y1", hy(0)).attr("y2", top)
          .attr("stroke", BLUE_THIN).attr("stroke-width", 1.3).attr("stroke-dasharray", "1.3,3");
        inner.append("line").attr("x1", sx[j](mean)).attr("x2", sx[j](mean)).attr("y1", hy(0)).attr("y2", top)
          .attr("stroke", RED).attr("stroke-width", 1.6);
        inner.append("line").attr("x1", sx[j](med)).attr("x2", sx[j](med)).attr("y1", hy(0)).attr("y2", top)
          .attr("stroke", BLUE).attr("stroke-width", 1.6).attr("stroke-dasharray", "5,3");
        if (h.baseline) {
          inner.append("line").attr("x1", colX[j]).attr("x2", colX[j] + W).attr("y1", hy(0) - 0.8).attr("y2", hy(0) - 0.8)
            .attr("stroke", "#000").attr("stroke-width", 1.6).attr("stroke-dasharray", "6,6");
        }
        pg.append("text").attr("x", colX[j] + W / 2).attr("y", rowY[i] + 29.5)
          .attr("text-anchor", "middle").attr("font-family", FONT).attr("font-weight", "bold")
          .attr("font-size", 31).text(pairVars[i]);
      } else if (i > j) {
        const pts = p.scatter[`${i}${j}`];
        inner.selectAll("circle").data(pts).join("circle")
          .attr("cx", d => sx[j](d[0])).attr("cy", d => sy[i](d[1])).attr("r", 2.8).attr("fill", "#000");
        inner.append("path")
          .attr("d", d3.line().x(d => sx[j](d[0])).y(d => sy[i](d[1])).curve(d3.curveMonotoneX)(p.loess[`${i}${j}`]))
          .attr("fill", "none").attr("stroke", RED).attr("stroke-width", 1.4);
      } else {
        const r = p.cor[`${i}${j}`];
        if (r != null) {
          pg.append("text").attr("x", colX[j] + W / 2).attr("y", rowY[i] + H / 2)
            .attr("text-anchor", "middle").attr("dominant-baseline", "central")
            .attr("font-family", FONT).attr("font-size", 49.5 * r).attr("fill", "#4463b4")
            .text(d3.format(".2f")(r));
        }
      }
      pg.append("rect").attr("x", colX[j]).attr("y", rowY[i]).attr("width", W).attr("height", H)
        .attr("fill", "none").attr("stroke", "#000").attr("stroke-width", 1.7);
    }
  }

  const tickLab = labels => (d => labels.includes(d) ? d3.format("d")(d) : "");
  const ta = g.append("g").attr("transform", `translate(0,${rowY[0]})`)
    .call(d3.axisTop(sx[0]).tickValues(tStarTicks).tickSize(10).tickPadding(12).tickFormat(tickLab(tStarTickLabels)));
  styleAxis(ta, 15.7);
  const sa = g.append("g").attr("transform", `translate(0,${rowY[0]})`)
    .call(d3.axisTop(sx[2]).tickValues(p.slrTicks).tickSize(10).tickPadding(12).tickFormat(tickLab(p.slrTickLabels)));
  styleAxis(sa, 15.7);
  const ca = g.append("g").attr("transform", `translate(0,${rowY[2] + H})`)
    .call(d3.axisBottom(sx[1]).tickValues(cStarTicks).tickSize(10).tickPadding(13.5)
      .tickFormat(d => cStarTickLabels.includes(d) ? d3.format("d")(d) : ""));
  styleAxis(ca, 15.7);
  const rightSets = [rightTicksOuter, null, rightTicksSlr];
  rightSets.forEach((vals, i) => {
    const scale = vals ? d3.scaleLinear().domain([0, 1]).range([rowY[i] + H, rowY[i]]) : sy[1];
    const ra = g.append("g").attr("transform", `translate(${colX[2] + W},0)`)
      .call(d3.axisRight(scale).tickValues(vals || cStarTicks).tickSize(10).tickFormat(""));
    styleAxis(ra, 15.7);
  });
}

drawPairs({
  id: "top", rowTops: [60.5, 202.5, 345],
  domains: [tStarDomain, cStarDomain, slrDomainTop],
  slrTicks: slrTicksTop, slrTickLabels: slrTickLabelsTop,
  hist: [
    {edges: tStarEdges, counts: topTStarCounts, lines: topTStarLines, baseline: true},
    {edges: cStarEdges, counts: topCStarCounts, lines: topCStarLines},
    {edges: slrEdgesTop, counts: topSlrCounts, lines: topSlrLines}
  ],
  scatter: {"10": topTC, "20": topTS, "21": topCS},
  loess: {"10": topLoessTC, "20": topLoessTS, "21": topLoessCS},
  cor: {"01": topCor[0], "02": topCor[1], "12": topCor[2]}
});
drawPairs({
  id: "bottom", rowTops: [570, 712, 854.5],
  domains: [tStarDomain, cStarDomain, slrDomainBottom],
  slrTicks: slrTicksBottom, slrTickLabels: slrTickLabelsBottom,
  hist: [
    {edges: tStarEdges, counts: bottomTStarCounts, lines: bottomTStarLines, baseline: true},
    {edges: cStarEdges, counts: bottomCStarCounts, lines: bottomCStarLines},
    {edges: slrEdgesBottom, counts: bottomSlrCounts, lines: bottomSlrLines, baseline: true}
  ],
  scatter: {"10": bottomTC, "20": bottomTS, "21": bottomCS},
  loess: {"10": bottomLoessTC, "20": bottomLoessTS, "21": bottomLoessCS},
  cor: {"01": bottomCor[0], "02": bottomCor[1], "12": bottomCor[2]}
});
</script>
</body>
</html>
